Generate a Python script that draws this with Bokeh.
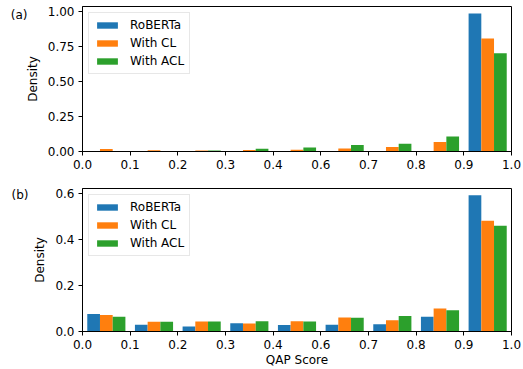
import numpy as np
from bokeh.plotting import figure
from bokeh.layouts import column
from bokeh.models import Range1d, FixedTicker, PrintfTickFormatter, LinearAxis
from bokeh.embed import file_html
from bokeh.resources import INLINE

# ---- data ----
tick_labels = ["0.0", "0.1", "0.2", "0.3", "0.4", "0.6", "0.7", "0.8", "0.9", "1.0"]
series_names = ["RoBERTa", "With CL", "With ACL"]
colors = ["#1f77b4", "#ff7f0e", "#2ca02c"]

# panel (a): density per bin
a_roberta = [0.0, 0.0, 0.0, 0.0, 0.0, 0.0, 0.003, 0.004, 0.983]
a_cl      = [0.017, 0.009, 0.007, 0.010, 0.012, 0.022, 0.032, 0.068, 0.805]
a_acl     = [0.0, 0.003, 0.007, 0.019, 0.029, 0.046, 0.056, 0.106, 0.699]

# panel (b): density per bin
b_roberta = [0.076, 0.029, 0.022, 0.036, 0.028, 0.029, 0.032, 0.064, 0.594]
b_cl      = [0.072, 0.042, 0.044, 0.035, 0.045, 0.061, 0.049, 0.100, 0.483]
b_acl     = [0.064, 0.042, 0.044, 0.045, 0.044, 0.060, 0.068, 0.093, 0.461]

a_ticks = [0.0, 0.25, 0.5, 0.75, 1.0]
b_ticks = [0.0, 0.2, 0.4, 0.6]

FONT = "DejaVu Sans"
FS = "12px"


def make_panel(values, yticks, yfmt, tag, tag_drop, tag_standoff,
               height, border_top, border_bottom, xlabel):
    ymax = max(max(v) for v in values) * 1.05
    p = figure(width=523, height=height, output_backend="svg", toolbar_location=None,
               x_range=Range1d(0, 9), y_range=Range1d(0, ymax),
               min_border_left=82, min_border_right=12,
               min_border_top=border_top, min_border_bottom=border_bottom)
    p.xgrid.visible = False
    p.ygrid.visible = False
    p.background_fill_color = "white"
    p.border_fill_color = "white"
    p.outline_line_color = "black"
    p.outline_line_width = 1

    bins = np.arange(len(values[0]))
    w = 0.8 / 3
    for k, (vals, name, col) in enumerate(zip(values, series_names, colors)):
        p.vbar(x=bins + 0.1 + (k + 0.5) * w, top=vals, bottom=0, width=w,
               fill_color=col, line_color=None, legend_label=name)

    p.xaxis.ticker = FixedTicker(ticks=list(range(len(tick_labels))))
    p.xaxis.major_label_overrides = {i: lab for i, lab in enumerate(tick_labels)}
    p.yaxis.ticker = FixedTicker(ticks=yticks)
    p.yaxis.formatter = PrintfTickFormatter(format=yfmt)
    for ax in (p.xaxis[0], p.yaxis[0]):
        ax.major_tick_out = 4
        ax.major_tick_in = 0
        ax.minor_tick_out = 0
        ax.minor_tick_in = 0
        ax.axis_line_color = "black"
        ax.major_tick_line_color = "black"
        ax.major_label_text_font = FONT
        ax.major_label_text_font_size = FS
        ax.major_label_text_color = "black"
        ax.major_label_standoff = 4
        ax.axis_label_text_font = FONT
        ax.axis_label_text_font_size = FS
        ax.axis_label_text_font_style = "normal"
        ax.axis_label_text_color = "black"
        ax.axis_label_standoff = 5
    p.xaxis.axis_label_standoff = 1
    p.yaxis.axis_label = "Density"
    if xlabel:
        p.xaxis.axis_label = xlabel

    # panel tag "(a)" / "(b)" drawn as a label-only outer axis on the left
    frame_h = height - border_top - border_bottom
    p.extra_y_ranges = {"tag": Range1d(0, frame_h)}
    tag_pos = frame_h - tag_drop
    tag_axis = LinearAxis(y_range_name="tag", ticker=FixedTicker(ticks=[tag_pos]),
                          major_label_overrides={tag_pos: tag},
                          axis_line_color=None, major_tick_line_color=None,
                          minor_tick_line_color=None, major_tick_out=0, major_tick_in=0,
                          minor_tick_out=0, minor_tick_in=0,
                          major_label_standoff=tag_standoff,
                          major_label_text_font=FONT, major_label_text_font_size=FS,
                          major_label_text_color="black")
    p.add_layout(tag_axis, "left")

    lg = p.legend[0]
    lg.location = "top_left"
    lg.margin = 6
    lg.padding = 5
    lg.spacing = 4
    lg.glyph_width = 26
    lg.glyph_height = 8
    lg.label_height = 12
    lg.label_standoff = 10
    lg.label_text_font = FONT
    lg.label_text_font_size = FS
    lg.label_text_color = "black"
    lg.border_line_color = "#d0d0d0"
    lg.border_line_width = 1
    lg.background_fill_color = "white"
    lg.background_fill_alpha = 0.8
    return p


p1 = make_panel([a_roberta, a_cl, a_acl], a_ticks, "%.2f", "(a)", 8, -5, 182, 6, 31, None)
p2 = make_panel([b_roberta, b_cl, b_acl], b_ticks, "%.1f", "(b)", 6, 2, 187, 6, 38, "QAP Score")

layout = column(p1, p2, spacing=0)
open("out.html", "w").write(file_html(layout, INLINE))
